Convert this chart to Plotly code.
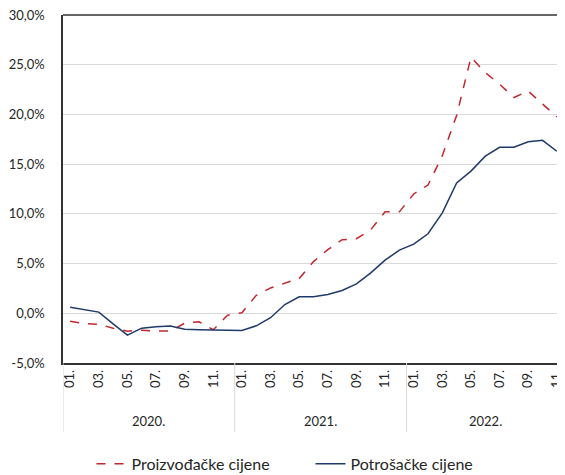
import plotly.graph_objects as go

# mjesečne stope promjene, 01.2020 - 11.2022
months = ["01.", "02.", "03.", "04.", "05.", "06.", "07.", "08.", "09.", "10.", "11.", "12."] * 2 + \
         ["01.", "02.", "03.", "04.", "05.", "06.", "07.", "08.", "09.", "10.", "11."]
years = ["2020.", "2021.", "2022."]
year_len = [12, 12, 11]

proizvodacke = [-0.8, -1.05, -1.1, -1.5, -1.8, -1.7, -1.78, -1.78, -1.0, -0.85, -1.65, -0.2,
                0.05, 1.8, 2.55, 3.05, 3.5, 5.2, 6.4, 7.4, 7.5, 8.4, 10.2, 10.2,
                12.0, 12.9, 15.85, 19.9, 25.75, 24.2, 23.05, 21.7, 22.35, 21.05, 19.75]
potrosacke = [0.6, 0.34, 0.12, -1.07, -2.2, -1.5, -1.35, -1.28, -1.6, -1.65, -1.65, -1.67,
              -1.72, -1.26, -0.45, 0.88, 1.66, 1.66, 1.88, 2.3, 2.95, 4.07, 5.35, 6.35,
              6.95, 8.0, 10.1, 13.1, 14.3, 15.8, 16.7, 16.7, 17.25, 17.4, 16.3]

y_ticks = [-5, 0, 5, 10, 15, 20, 25, 30]
y_labels = [f"{v:.1f}%".replace(".", ",") for v in y_ticks]

x = list(range(len(months)))
tick_idx = [i for i in x if months[i] in ("01.", "03.", "05.", "07.", "09.", "11.")]

fig = go.Figure()
fig.add_trace(go.Scatter(x=x, y=proizvodacke, mode="lines", name="Proizvođačke cijene",
                         line=dict(color="#C0272D", width=1.5, dash="dash")))
fig.add_trace(go.Scatter(x=x, y=potrosacke, mode="lines", name="Potrošačke cijene",
                         line=dict(color="#1F3A68", width=1.5)))

# godine ispod osi + razdjelnici
start = 0
bounds = [-0.5]
for yr, n in zip(years, year_len):
    fig.add_annotation(x=start + (n - 1) / 2, y=-0.167, xref="x", yref="paper", text=yr,
                       showarrow=False, font=dict(size=13, color="#262626"), yanchor="middle")
    start += n
    bounds.append(start - 0.5)
for b in bounds:
    fig.add_shape(type="line", x0=b, x1=b, y0=0, y1=-0.198, xref="x", yref="paper",
                  line=dict(color="#D9D9D9", width=1))
fig.add_shape(type="line", x0=0, x1=1, y0=1, y1=1, xref="paper", yref="paper",
              line=dict(color="#333333", width=1.5))

fig.update_xaxes(range=[-0.5, len(months) - 0.5], tickvals=tick_idx,
                 ticktext=[months[i] for i in tick_idx], tickangle=-90,
                 showgrid=False, zeroline=False, showline=True, linecolor="#333333", linewidth=1.5,
                 ticks="", tickfont=dict(size=13, color="#262626"), automargin=False,
                 ticklabeloverflow="allow")
fig.update_yaxes(range=[-5, 30], tickvals=y_ticks, ticktext=y_labels,
                 showgrid=True, gridcolor="#D9D9D9", gridwidth=1.2, zeroline=False,
                 showline=True, linecolor="#333333", linewidth=1.5, ticks="",
                 tickfont=dict(size=13, color="#262626"), automargin=False,
                 ticklabeloverflow="allow", ticklabelstandoff=14)

# stranica dodaje 8px margine oko grafa, pa je sve pomaknuto za 8px
fig.update_layout(
    width=565, height=475,
    margin=dict(l=55, r=9, t=7, b=120, autoexpand=False),
    plot_bgcolor="white", paper_bgcolor="white",
    font=dict(family="Lato, Open Sans, sans-serif", color="#262626"),
    showlegend=True,
    legend=dict(orientation="h", x=0.494, xanchor="center", entrywidth=174,
                y=-0.29, yanchor="middle", font=dict(size=16)),
)

fig.write_html("out.html")
